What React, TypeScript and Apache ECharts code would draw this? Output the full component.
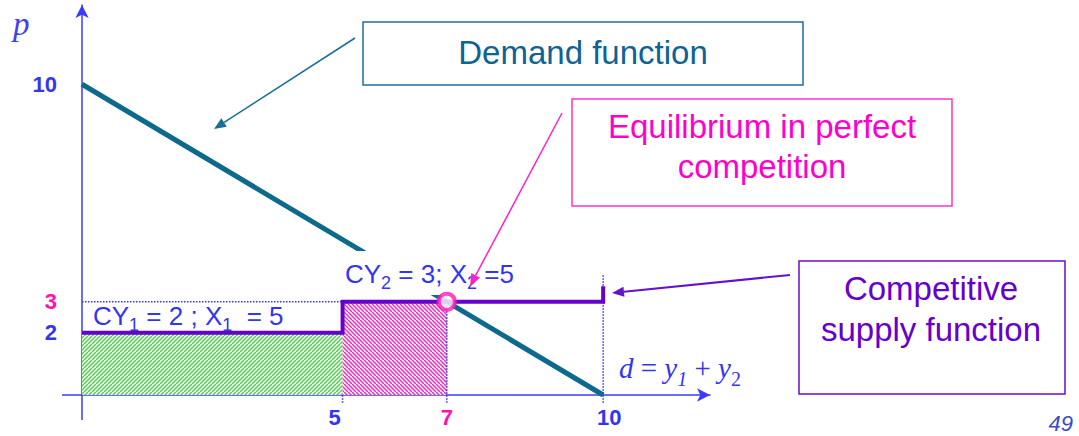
import React, { useEffect, useRef } from 'react';
import * as echarts from 'echarts';

// ---- data ----
const demandPoints = [[0, 10], [10, 0]];
const supplyPoints = [[0, 2], [5, 2], [5, 3], [10, 3], [10, 3.5]];
// [x0, x1, height]
const firmBlocks = [[0, 5, 2], [5, 7, 3]];
const equilibrium = [[7, 3]];
const guideH3 = [[0, 3], [5, 3]];
const guideV5 = [[5, -0.25], [5, 0]];
const guideV7 = [[7, -0.25], [7, 3.3]];
const guideV10 = [[10, -0.25], [10, 3.85]];
const xTicks = [5, 7, 10];
const yTicks = [2, 3, 10];

const BLUE = '#3535ee';
const AXIS = '#3b3bff';
const MAGENTA = '#ff10b4';
const PURPLE = '#6600cc';
const TEAL = '#0e6a8c';
const SANS = '"Liberation Sans", Arial, sans-serif';
const SERIF = '"Liberation Serif", "Times New Roman", serif';

function hatch(color: string, dir: number) {
  const c = document.createElement('canvas');
  c.width = 8;
  c.height = 8;
  const ctx = c.getContext('2d')!;
  ctx.fillStyle = '#ffffff';
  ctx.fillRect(0, 0, 8, 8);
  ctx.strokeStyle = color;
  ctx.lineWidth = 1.5;
  for (let k = -8; k <= 16; k += 4) {
    ctx.beginPath();
    if (dir > 0) {
      ctx.moveTo(k, 8);
      ctx.lineTo(k + 8, 0);
    } else {
      ctx.moveTo(k, 0);
      ctx.lineTo(k + 8, 8);
    }
    ctx.stroke();
  }
  return { image: c, repeat: 'repeat', imageWidth: 8, imageHeight: 8 };
}

function arrow(x1: number, y1: number, x2: number, y2: number, color: string, lw: number, hl = 12, hw = 5) {
  const dx = x2 - x1, dy = y2 - y1;
  const L = Math.hypot(dx, dy);
  const ux = dx / L, uy = dy / L;
  const bx = x2 - ux * hl, by = y2 - uy * hl;
  return [
    { type: 'line', z: 110, silent: true, shape: { x1, y1, x2: bx, y2: by }, style: { stroke: color, lineWidth: lw } },
    {
      type: 'polygon', z: 110, silent: true,
      shape: { points: [[x2, y2], [bx - uy * hw, by + ux * hw], [bx + uy * hw, by - ux * hw]] },
      style: { fill: color },
    },
  ];
}

function guide(data: number[][]) {
  return {
    type: 'line', data, symbol: 'none', z: 3, silent: true, clip: false,
    lineStyle: { color: BLUE, width: 1.5, type: 'dotted' },
  };
}

export default function App() {
  const ref = useRef<HTMLDivElement>(null);
  useEffect(() => {
    const chart = echarts.init(ref.current!, null, { renderer: 'svg' });
    const greenPat = hatch('#52cd52', 1);
    const pinkPat = hatch('#ff22c0', -1);

    const tok = (size: number, color: string, lh: number, drop = 0, italic = false, family = SANS) => ({
      fontSize: size, fontFamily: family, fill: color, fontStyle: italic ? 'italic' : 'normal',
      lineHeight: lh, verticalAlign: 'top', padding: [drop, 0, 0, 0],
    });

    const graphic: any[] = [
      // axis extensions below / left of the origin
      { type: 'line', z: 50, silent: true, shape: { x1: 82, y1: 395, x2: 82, y2: 420 }, style: { stroke: AXIS, lineWidth: 1.5 } },
      { type: 'line', z: 50, silent: true, shape: { x1: 62, y1: 395, x2: 82, y2: 395 }, style: { stroke: AXIS, lineWidth: 1.5 } },
      // Demand box
      { type: 'rect', z: 100, shape: { x: 363, y: 22, width: 440, height: 63 }, style: { fill: '#fff', stroke: '#1f6f99', lineWidth: 1.5 } },
      {
        type: 'text', z: 101, x: 583, y: 52,
        style: { text: 'Demand function', fontSize: 33, fontFamily: SANS, fill: '#0d6394', align: 'center', verticalAlign: 'middle', textAlign: 'center', textVerticalAlign: 'middle' },
      },
      // Equilibrium box
      { type: 'rect', z: 100, shape: { x: 572, y: 99, width: 380, height: 107 }, style: { fill: '#fff', stroke: '#ff33cc', lineWidth: 1.5 } },
      {
        type: 'text', z: 101, x: 762, y: 146,
        style: { text: 'Equilibrium in perfect\ncompetition', fontSize: 33, lineHeight: 40, fontFamily: SANS, fill: '#ff00cc', align: 'center', verticalAlign: 'middle', textAlign: 'center', textVerticalAlign: 'middle' },
      },
      // Competitive box
      { type: 'rect', z: 100, shape: { x: 799, y: 261, width: 266, height: 133 }, style: { fill: '#fff', stroke: '#6a0dcc', lineWidth: 1.5 } },
      {
        type: 'text', z: 101, x: 931, y: 309,
        style: { text: 'Competitive\nsupply function', fontSize: 33, lineHeight: 41, fontFamily: SANS, fill: PURPLE, align: 'center', verticalAlign: 'middle', textAlign: 'center', textVerticalAlign: 'middle' },
      },
      // CY2 label with white background
      { type: 'rect', z: 100, shape: { x: 340, y: 251, width: 182, height: 44 }, style: { fill: '#fff' } },
      {
        type: 'text', z: 101, x: 345, y: 278,
        style: {
          text: '{a|CY}{s|2}{a| = 3; X}{s|2}{a| =5}',
          verticalAlign: 'middle', textVerticalAlign: 'middle',
          rich: { a: tok(26, BLUE, 34), s: tok(18, BLUE, 34, 13) },
        },
      },
      {
        type: 'text', z: 101, x: 93, y: 320,
        style: {
          text: '{a|CY}{s|1}{a| = 2 ; X}{s|1}{a|  = 5}',
          verticalAlign: 'middle', textVerticalAlign: 'middle',
          rich: { a: tok(26, BLUE, 34), s: tok(18, BLUE, 34, 13) },
        },
      },
      {
        type: 'text', z: 101, x: 619, y: 371,
        style: {
          text: '{i|d}{n| = }{i|y}{s|1}{n| + }{i|y}{t|2}',
          verticalAlign: 'middle', textVerticalAlign: 'middle',
          rich: {
            i: tok(29, BLUE, 36, 0, true, SERIF),
            n: tok(29, BLUE, 36, 0, false, SERIF),
            s: tok(20, BLUE, 36, 16, true, SERIF),
            t: tok(20, BLUE, 36, 16, false, SERIF),
          },
        },
      },
      {
        type: 'text', z: 101, x: 13, y: 24,
        style: { text: 'p', fontSize: 33, fontStyle: 'italic', fontFamily: SERIF, fill: '#4040ee', verticalAlign: 'middle', textVerticalAlign: 'middle' },
      },
      {
        type: 'text', z: 101, x: 1073, y: 423,
        style: { text: '49', fontSize: 22, fontStyle: 'italic', fontFamily: SANS, fill: '#3a4ac8', align: 'right', textAlign: 'right', verticalAlign: 'middle', textVerticalAlign: 'middle' },
      },
      ...arrow(355, 38, 214, 129, '#1a6e96', 1.5, 12, 5),
      ...arrow(562, 113, 470, 286, '#ff22cc', 1.5, 12, 5),
      ...arrow(790, 275, 612, 293, '#6611cc', 2, 12, 5),
    ];

    const lbl = (color: string, pad?: number[]) => ({
      color, fontSize: 22, fontWeight: 'bold', fontFamily: SANS, ...(pad ? { padding: pad } : {}),
    });

    chart.setOption({
      animation: false,
      backgroundColor: '#ffffff',
      grid: { left: 82, right: 369, top: 5, bottom: 41, containLabel: false, outerBoundsMode: 'none' },
      xAxis: {
        type: 'value', min: 0, max: 12.05,
        splitLine: { show: false },
        axisTick: { show: false },
        axisLine: { symbol: ['none', 'arrow'], symbolSize: [10, 13], lineStyle: { color: AXIS, width: 1.5 } },
        axisLabel: {
          customValues: xTicks,
          margin: 11,
          formatter: (v: number) => `{x${v}|${v}}`,
          rich: {
            x5: lbl(BLUE, [0, 16, 0, 0]),
            x7: lbl(MAGENTA),
            x10: lbl(BLUE, [0, 0, 0, 12]),
          },
        },
      },
      yAxis: {
        type: 'value', min: 0, max: 12.55,
        splitLine: { show: false },
        axisTick: { show: false },
        axisLine: { symbol: ['none', 'arrow'], symbolSize: [10, 13], lineStyle: { color: AXIS, width: 1.5 } },
        axisLabel: {
          customValues: yTicks,
          margin: 25,
          formatter: (v: number) => `{y${v}|${v}}`,
          rich: {
            y2: lbl(BLUE),
            y3: lbl(MAGENTA),
            y10: lbl(BLUE),
          },
        },
      },
      series: [
        {
          type: 'custom', z: 1, silent: true,
          data: firmBlocks,
          encode: { x: [0, 1], y: 2 },
          renderItem: (params: any, api: any) => {
            const p0 = api.coord([api.value(0), 0]);
            const p1 = api.coord([api.value(1), api.value(2)]);
            return {
              type: 'rect',
              shape: { x: p0[0], y: p1[1], width: p1[0] - p0[0], height: p0[1] - p1[1] },
              style: { fill: params.dataIndex === 0 ? greenPat : pinkPat },
            };
          },
        },
        guide(guideH3),
        guide(guideV5),
        guide(guideV7),
        guide(guideV10),
        {
          type: 'line', data: demandPoints, symbol: 'none', z: 4, silent: true,
          lineStyle: { color: TEAL, width: 5 },
        },
        {
          type: 'line', data: supplyPoints, symbol: 'none', z: 5, silent: true,
          lineStyle: { color: PURPLE, width: 4, join: 'miter' },
        },
        {
          type: 'scatter', data: equilibrium, z: 120, symbol: 'circle', symbolSize: 16, silent: true,
          itemStyle: { color: '#ffffff', borderColor: '#ff1ab3', borderWidth: 4 },
        },
      ],
      graphic,
    });
    return () => chart.dispose();
  }, []);
  return <div ref={ref} style={{ position: 'absolute', left: 0, top: 0, width: 1079, height: 436 }} />;
}
